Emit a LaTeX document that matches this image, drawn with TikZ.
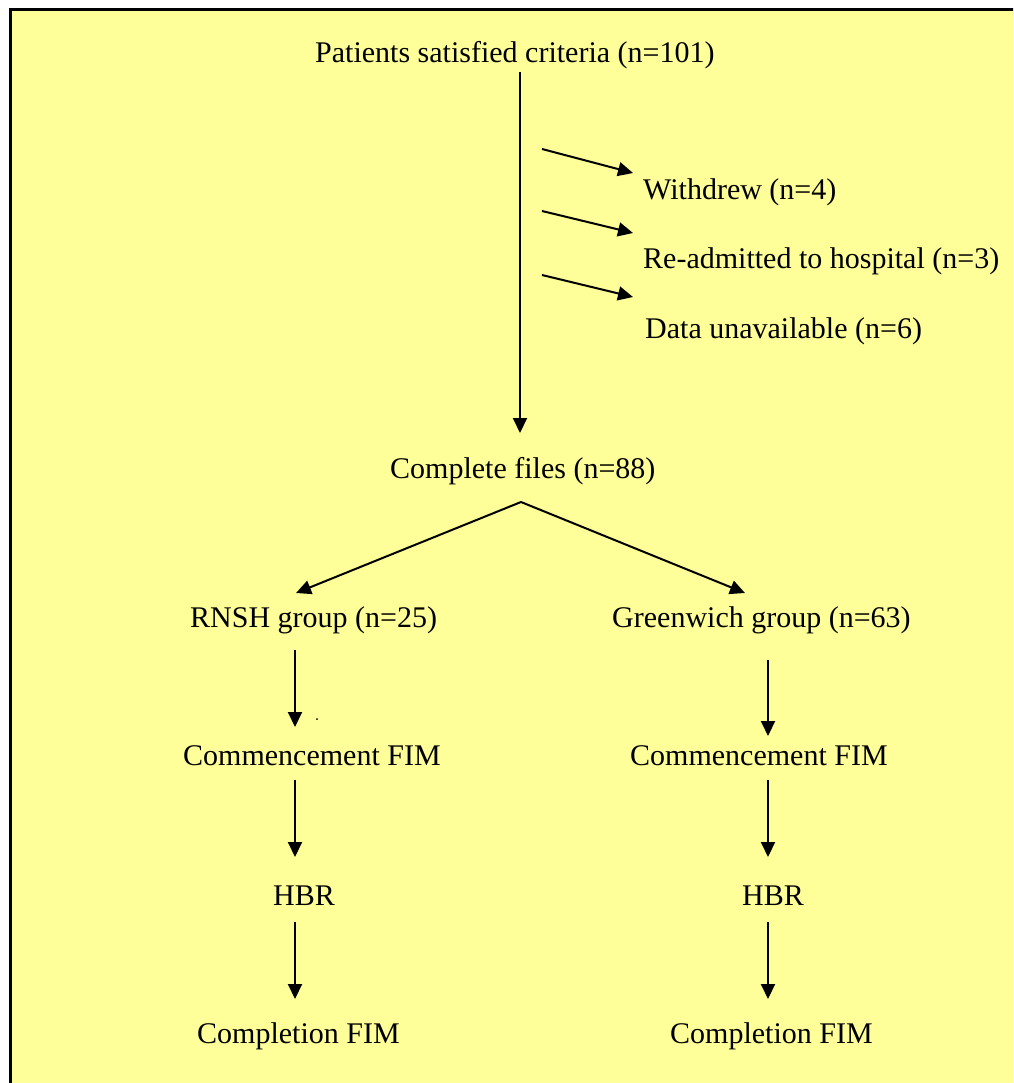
\documentclass[tikz,border=0pt]{standalone}
\usepackage{fontspec}
\setmainfont{Liberation Serif}
\usetikzlibrary{arrows.meta}
\definecolor{bgyellow}{RGB}{255,255,153}
\begin{document}
\begin{tikzpicture}[x=1pt,y=-1pt,
  lbl/.style={inner sep=0pt, anchor=base west, font=\fontsize{30}{36}\selectfont},
  arr/.style={line width=2pt, -{Triangle[length=15pt,width=14pt]}},
  ]
\useasboundingbox (0,0) rectangle (1013,1083);
\clip (0,0) rectangle (1013,1083);
\fill[bgyellow] (10,9) rectangle (1030,1100);
\draw[line width=3pt] (10.5,1100) -- (10.5,9.5) -- (1030,9.5);

% text nodes
\node[lbl] (pat) at (315,63) {Patients satisfied criteria (n=101)};
\node[lbl] (wd) at (643,200) {Withdrew (n=4)};
\node[lbl] (re) at (643,269) {Re-admitted to hospital (n=3)};
\node[lbl] (du) at (645,338) {Data unavailable (n=6)};
\node[lbl] (cf) at (390,478) {Complete files (n=88)};
\node[lbl] (rn) at (190,627) {RNSH group (n=25)};
\node[lbl] (gw) at (612,627) {Greenwich group (n=63)};
\node[lbl] (cl) at (183,765) {Commencement FIM};
\node[lbl] (cr) at (630,765) {Commencement FIM};
\node[lbl] (hl) at (273,905) {HBR};
\node[lbl] (hr) at (742,905) {HBR};
\node[lbl] (ql) at (197,1043) {Completion FIM};
\node[lbl] (qr) at (670,1043) {Completion FIM};

% connector end points
\coordinate (patOut) at (520,72);
\coordinate (cfIn) at (520,433);
\coordinate (wdFrom) at (542,149);
\coordinate (wdIn) at (633,173);
\coordinate (reFrom) at (542,211);
\coordinate (reIn) at (633,233);
\coordinate (duFrom) at (542,275);
\coordinate (duIn) at (633,297);
\coordinate (cfOut) at (521,502);
\coordinate (rnIn) at (296,593);
\coordinate (gwIn) at (745,593);
\coordinate (rnOut) at (295,650);
\coordinate (clIn) at (295,727);
\coordinate (clOut) at (295,780);
\coordinate (hlIn) at (295,857);
\coordinate (hlOut) at (295,922);
\coordinate (qlIn) at (295,999);
\coordinate (gwOut) at (768,660);
\coordinate (crIn) at (768,736);
\coordinate (crOut) at (768,780);
\coordinate (hrIn) at (768,857);
\coordinate (hrOut) at (768,922);
\coordinate (qrIn) at (768,999);

% connectors
\draw[arr] (patOut) -- (cfIn);
\draw[arr] (wdFrom) -- (wdIn);
\draw[arr] (reFrom) -- (reIn);
\draw[arr] (duFrom) -- (duIn);
\draw[arr] (cfOut) -- (rnIn);
\draw[arr] (cfOut) -- (gwIn);
\draw[arr] (rnOut) -- (clIn);
\draw[arr] (clOut) -- (hlIn);
\draw[arr] (hlOut) -- (qlIn);
\draw[arr] (gwOut) -- (crIn);
\draw[arr] (crOut) -- (hrIn);
\draw[arr] (hrOut) -- (qrIn);

% stray dot
\fill (317,719) circle (1pt);
\end{tikzpicture}
\end{document}
